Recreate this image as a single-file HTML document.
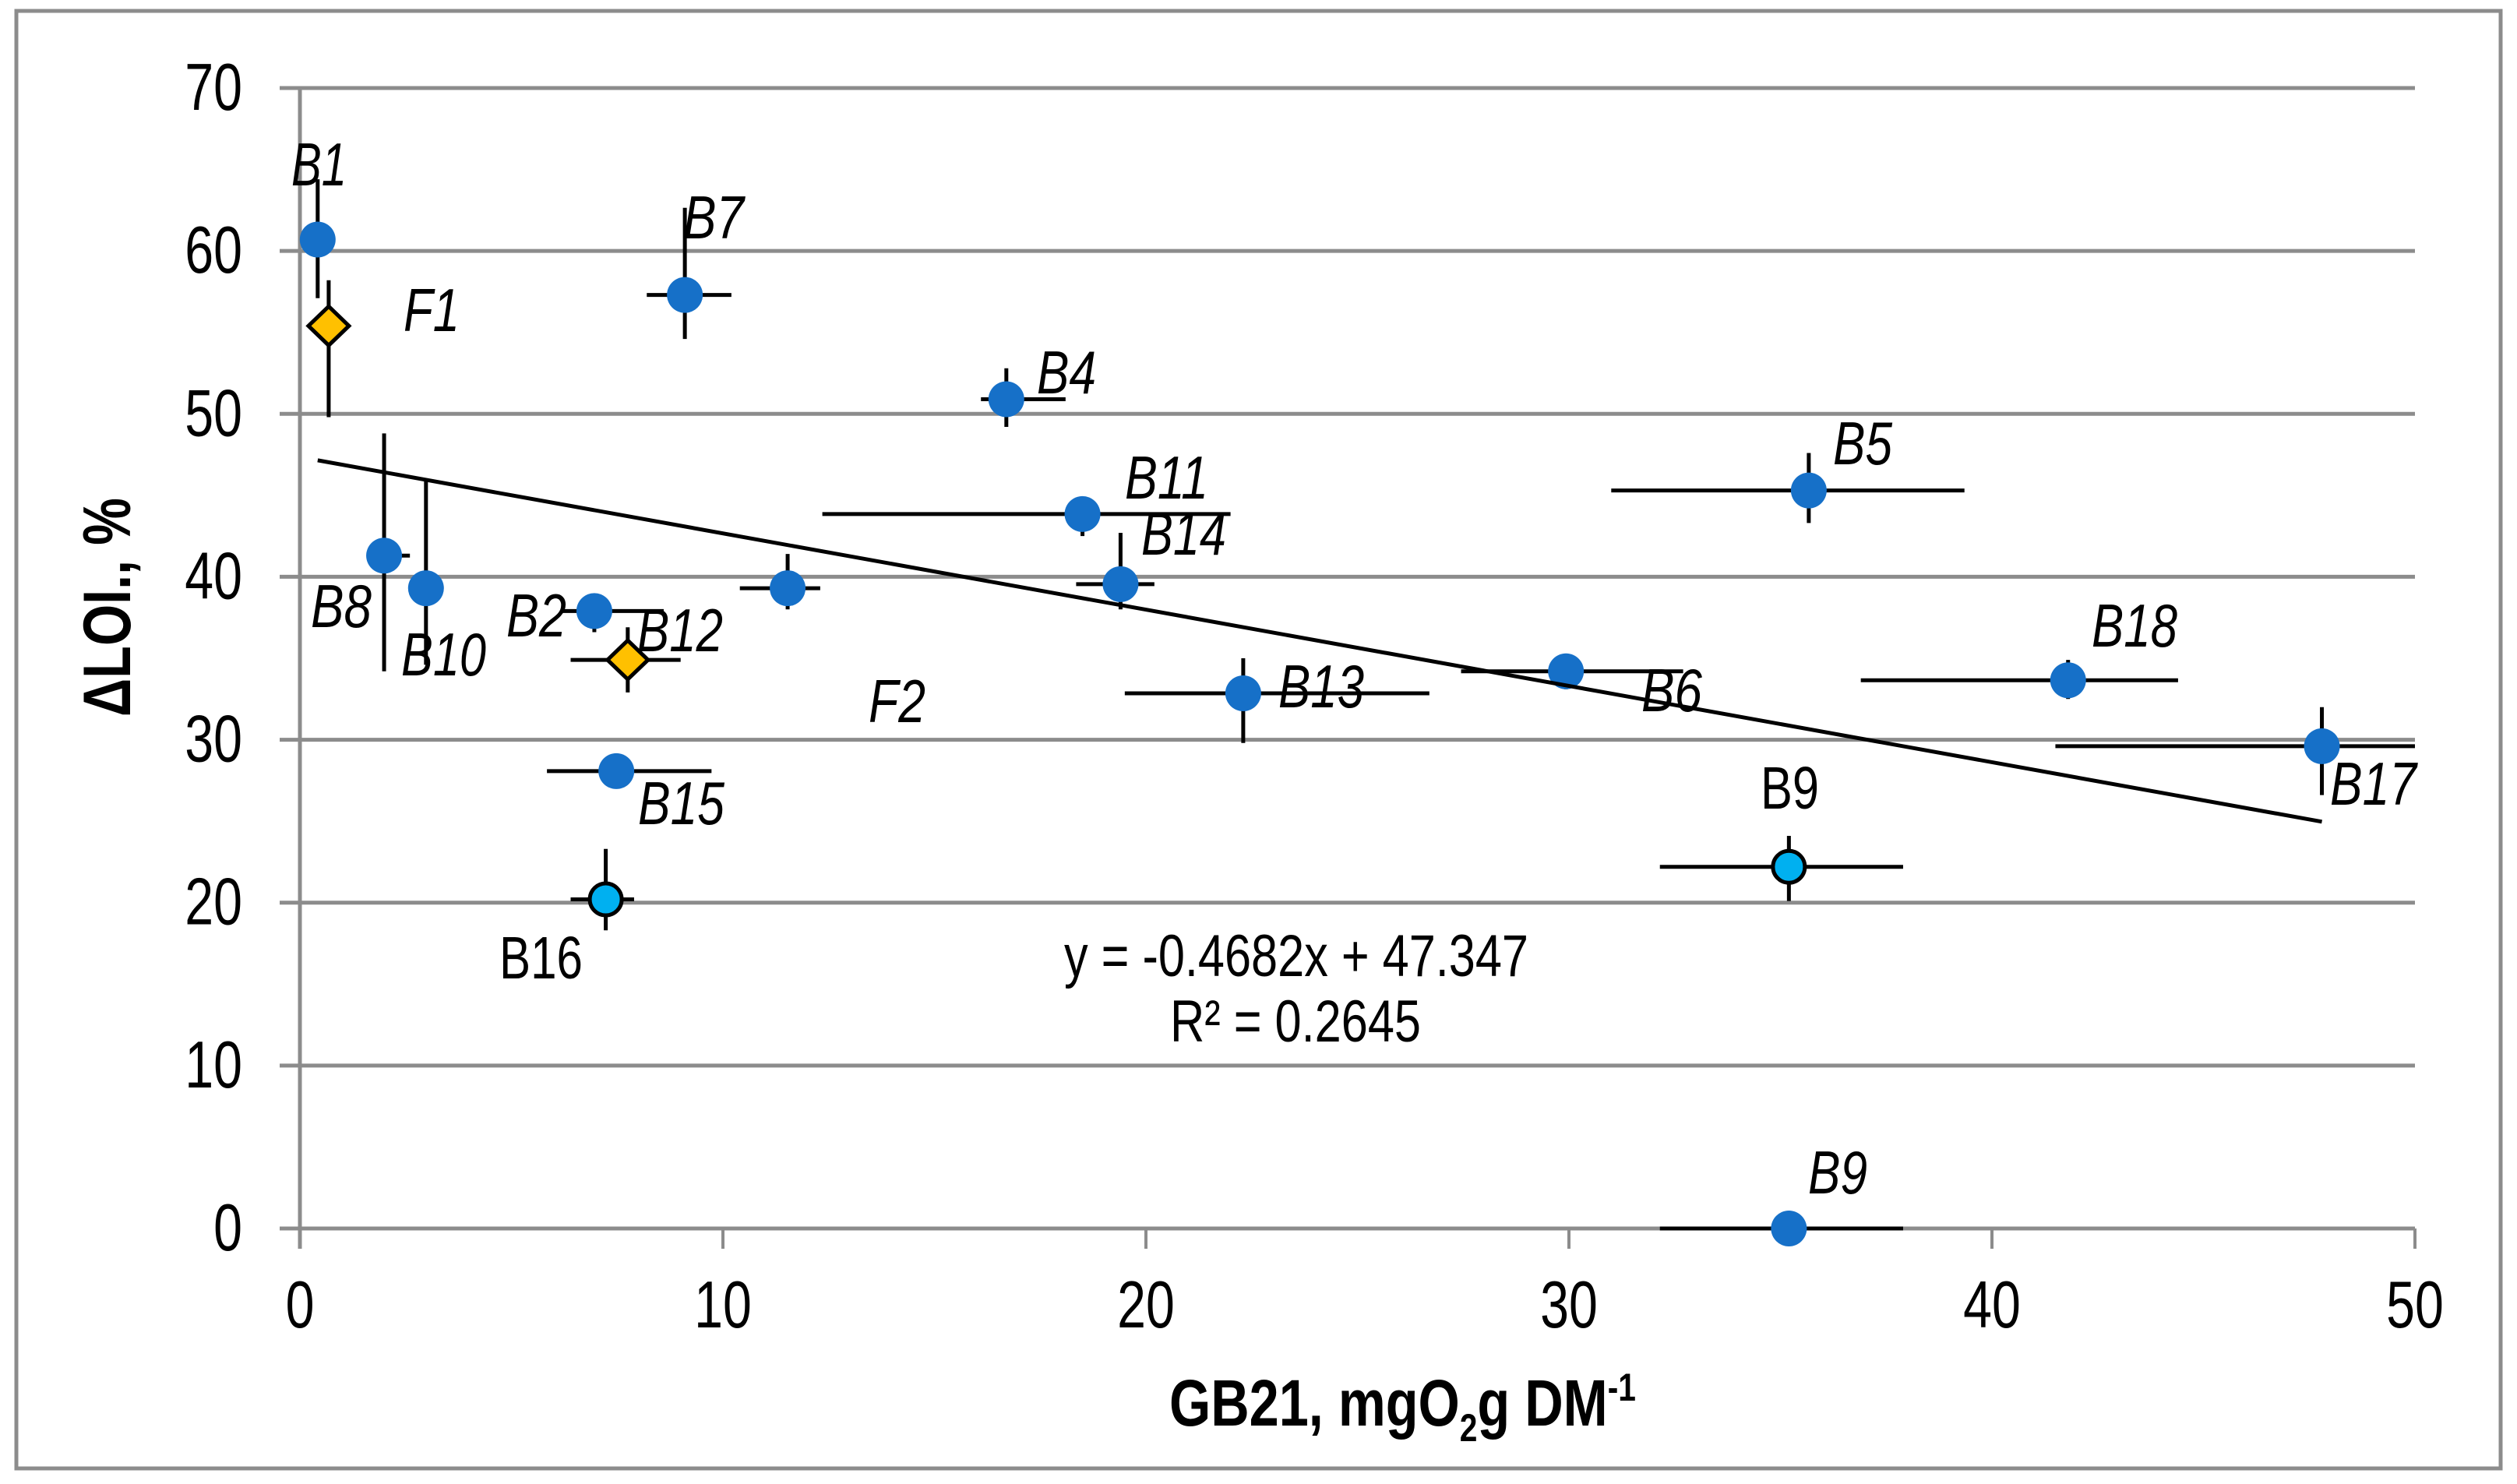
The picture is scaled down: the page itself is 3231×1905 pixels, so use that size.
<!DOCTYPE html>
<html lang="en">
<head>
<meta charset="utf-8">
<title>Delta LOI vs GB21 scatter chart</title>
<style>
html,body{margin:0;padding:0;background:#fff;width:3231px;height:1905px;overflow:hidden}
svg{display:block}
text{font-family:"Liberation Sans",sans-serif;fill:#000}
.lab{font-size:78px;font-style:italic}
.up{font-size:77px}
.tick{font-size:85px}
</style>
</head>
<body>
<svg id="chart" width="3231" height="1905" viewBox="0 0 3231 1905" xmlns="http://www.w3.org/2000/svg">
  <rect x="0" y="0" width="3231" height="1905" fill="#fff"/>
  <rect x="21" y="14" width="3189" height="1871" fill="#fff" stroke="#8c8c8c" stroke-width="5"/>
  <g id="axes"></g>
  <g id="marks"></g>
  <g id="labels">
    <text class="lab" x="374" y="238" textLength="71" lengthAdjust="spacingAndGlyphs">B1</text>
    <text class="lab" x="877" y="306" textLength="78" lengthAdjust="spacingAndGlyphs">B7</text>
    <text class="lab" x="518" y="425" textLength="72" lengthAdjust="spacingAndGlyphs">F1</text>
    <text class="lab" x="399" y="805" textLength="78" lengthAdjust="spacingAndGlyphs">B8</text>
    <text class="lab" x="515" y="867" textLength="109" lengthAdjust="spacingAndGlyphs">B10</text>
    <text class="lab" x="650" y="817" textLength="77" lengthAdjust="spacingAndGlyphs">B2</text>
    <text class="lab" x="818" y="836" textLength="110" lengthAdjust="spacingAndGlyphs">B12</text>
    <text class="lab" x="819" y="1058" textLength="111" lengthAdjust="spacingAndGlyphs">B15</text>
    <text class="up" x="641" y="1256" textLength="107" lengthAdjust="spacingAndGlyphs">B16</text>
    <text class="lab" x="1115" y="927" textLength="73" lengthAdjust="spacingAndGlyphs">F2</text>
    <text class="lab" x="1331" y="505" textLength="76" lengthAdjust="spacingAndGlyphs">B4</text>
    <text class="lab" x="1444" y="640" textLength="107" lengthAdjust="spacingAndGlyphs">B11</text>
    <text class="lab" x="1465" y="712" textLength="109" lengthAdjust="spacingAndGlyphs">B14</text>
    <text class="lab" x="1641" y="908" textLength="110" lengthAdjust="spacingAndGlyphs">B13</text>
    <text class="lab" x="2107" y="913" textLength="78" lengthAdjust="spacingAndGlyphs">B6</text>
    <text class="lab" x="2353" y="596" textLength="76" lengthAdjust="spacingAndGlyphs">B5</text>
    <text class="lab" x="2685" y="830" textLength="110" lengthAdjust="spacingAndGlyphs">B18</text>
    <text class="lab" x="2991" y="1033" textLength="111" lengthAdjust="spacingAndGlyphs">B17</text>
    <text class="up" x="2260" y="1038" textLength="75" lengthAdjust="spacingAndGlyphs">B9</text>
    <text class="lab" x="2321" y="1532" textLength="76" lengthAdjust="spacingAndGlyphs">B9</text>
  </g>
  <text x="1366" y="1253" font-size="76" textLength="596" lengthAdjust="spacingAndGlyphs">y = -0.4682x + 47.347</text>
  <text x="1502" y="1337" font-size="76" textLength="322" lengthAdjust="spacingAndGlyphs">R² = 0.2645</text>
  <text transform="translate(167,920) rotate(-90)" font-size="86" font-weight="bold" textLength="281" lengthAdjust="spacingAndGlyphs">ΔLOI., %</text>
  <g transform="translate(1501,1830) scale(0.815,1)">
    <text font-size="84" font-weight="bold">GB21, mgO<tspan font-size="50" dy="20">2</tspan><tspan dy="-20">g DM</tspan><tspan font-size="50" dy="-32">-1</tspan></text>
  </g>
</svg>
<script>
// Axis tick labels
var xTicks = [0, 10, 20, 30, 40, 50];
var yTicks = [0, 10, 20, 30, 40, 50, 60, 70];

// Samples
var sampleNames = ['B1','F1','B7','B8','B10','B2','B12','F2','B4','B11','B14','B13','B6','B5','B18','B17','B9','B9-zero','B15','B16'];
var sampleGroups = ['blue','fungal','blue','blue','blue','blue','fungal','blue','blue','blue','blue','blue','blue','blue','blue','blue','cyan','blue','blue','cyan'];
var xValues = [0.42,0.68,9.1,1.99,2.98,6.96,7.75,11.53,16.7,18.5,19.4,22.3,29.93,35.67,41.8,47.8,35.2,35.2,7.48,7.23];
var yValues = [60.7,55.4,57.3,41.3,39.3,37.9,34.9,39.3,50.9,43.85,39.55,32.85,34.2,45.3,33.65,29.6,22.2,0,28.07,20.2];
var xLow  = [null,null,8.2,1.7,null,6.2,6.4,10.4,16.1,12.35,18.35,19.5,27.45,31.0,36.9,41.5,32.15,32.15,5.84,6.4];
var xHigh = [null,null,10.2,2.6,null,8.6,9.0,12.3,18.1,22.0,20.2,26.7,32.7,39.35,44.4,50,37.9,37.9,9.73,7.9];
var yLow  = [57.1,49.8,54.6,34.2,34.6,36.6,32.9,38.0,49.2,42.5,38.0,29.8,33.1,43.3,32.5,26.6,20.1,null,null,18.3];
var yHigh = [64.4,58.2,62.65,48.8,45.9,38.8,36.9,41.4,52.8,44.7,42.7,35.0,35.2,47.6,34.9,32.0,24.1,null,null,23.3];

// Linear trendline as printed on the chart
var trendSlope = -0.4682;
var trendIntercept = 47.347;
var trendRange = [0.42, 47.8];

var NS = 'http://www.w3.org/2000/svg';
var GRAY = '#8c8c8c';
var BLACK = '#000';
var BLUE = '#1670c8';
var CYAN = '#00b0f0';
var GOLD = '#ffc000';

function xPos(v) { return 385 + v * (3100 - 385) / 50; }
function yPos(v) { return 1577 - v * (1577 - 113) / 70; }

function make(tag, parent, attrs) {
  var el = document.createElementNS(NS, tag);
  for (var k in attrs) { el.setAttribute(k, attrs[k]); }
  parent.appendChild(el);
  return el;
}

var axes = document.getElementById('axes');
var marks = document.getElementById('marks');

yTicks.forEach(function (t) {
  var line = make('line', axes, { x1: 359, x2: xPos(50), y1: yPos(t), y2: yPos(t), stroke: GRAY, 'stroke-width': 5 });
  
  
  var label = make('text', axes, { transform: 'translate(311,' + (yPos(t) + 28) + ') scale(0.78,1)', 'text-anchor': 'end', class: 'tick' });
  
  
  label.textContent = t;
});

var yAxisLine = make('line', axes, { x1: xPos(0), x2: xPos(0), y1: yPos(70), y2: 1603, stroke: GRAY, 'stroke-width': 5 });



xTicks.forEach(function (t) {
  var tick = make('line', axes, { x1: xPos(t), x2: xPos(t), y1: yPos(0), y2: 1603, stroke: GRAY, 'stroke-width': 4 });
  
  
  var label = make('text', axes, { transform: 'translate(' + xPos(t) + ',1704) scale(0.78,1)', 'text-anchor': 'middle', class: 'tick' });
  
  
  label.textContent = t;
});

sampleNames.forEach(function (name, i) {
  var slug = name.toLowerCase();
  if (xLow[i] !== null) {
    var h = make('line', marks, { x1: xPos(xLow[i]), x2: xPos(xHigh[i]), y1: yPos(yValues[i]), y2: yPos(yValues[i]), stroke: BLACK, 'stroke-width': 5 });
    
    
  }
  if (yLow[i] !== null) {
    var v = make('line', marks, { x1: xPos(xValues[i]), x2: xPos(xValues[i]), y1: yPos(yLow[i]), y2: yPos(yHigh[i]), stroke: BLACK, 'stroke-width': 5 });
    
    
  }
});

sampleNames.forEach(function (name, i) {
  var slug = name.toLowerCase();
  var cx = xPos(xValues[i]);
  var cy = yPos(yValues[i]);
  var m;
  if (sampleGroups[i] === 'fungal') {
    var pts = [[cx, cy - 25], [cx + 26, cy], [cx, cy + 25], [cx - 26, cy]].map(function (p) { return p.join(','); }).join(' ');
    m = make('polygon', marks, { points: pts, fill: GOLD, stroke: BLACK, 'stroke-width': 5 });
  } else if (sampleGroups[i] === 'cyan') {
    m = make('circle', marks, { cx: cx, cy: cy, r: 20.5, fill: CYAN, stroke: BLACK, 'stroke-width': 5 });
  } else {
    m = make('circle', marks, { cx: cx, cy: cy, r: 23, fill: BLUE });
  }
  
  
});

var trend = make('line', marks, {
  x1: xPos(trendRange[0]),
  y1: yPos(trendSlope * trendRange[0] + trendIntercept),
  x2: xPos(trendRange[1]),
  y2: yPos(trendSlope * trendRange[1] + trendIntercept),
  stroke: BLACK,
  'stroke-width': 5
});


</script>
</body>
</html>
